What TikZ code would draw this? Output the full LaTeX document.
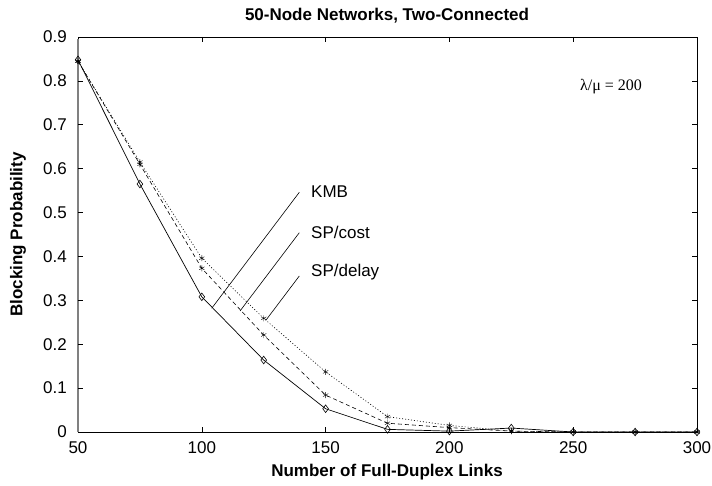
\documentclass[tikz,border=0pt]{standalone}
\usepackage{fontspec}
\setmainfont{Liberation Sans}
\newfontfamily\timesfont{Liberation Serif}
\usetikzlibrary{plotmarks}
\begin{document}
\begin{tikzpicture}[x=1pt,y=1pt,
  ticklbl/.style={font=\fontsize{17}{17}\selectfont, inner sep=0pt},
  axlbl/.style={font=\bfseries\fontsize{17}{17}\selectfont, inner sep=0pt},
  curvelbl/.style={font=\fontsize{17}{17}\selectfont, inner sep=0pt, anchor=west},
  kmbline/.style={line width=0.7pt, mark=diamond, mark size=3.8pt, mark options={solid, line width=0.6pt, fill=none}},
  costline/.style={line width=0.6pt, dash pattern=on 4pt off 3pt, mark=asterisk, mark size=3pt, mark options={solid, line width=0.4pt}},
  delayline/.style={line width=0.6pt, dash pattern=on 1pt off 2pt, mark=asterisk, mark size=3pt, mark options={solid, line width=0.4pt}},
  pointer/.style={line width=0.6pt},
  tick/.style={line width=0.6pt}]
\useasboundingbox[fill=white] (0,0) rectangle (712,485);

% axes frame
\draw[line width=0.6pt] (78,53) rectangle (697,448);
\draw[gray, line width=1.6pt] (78,53) -- (78,446);

% data area
\begin{scope}[shift={(-45.8,53)}, x=2.476pt, y=438.9pt]
  % ticks
  \foreach \xv in {100,150,200,250} {
    \draw[tick] (\xv,0) -- ++(0,5pt);
    \draw[tick] (\xv,0.9) -- ++(0,-5pt);
  }
  \foreach \xv in {50,100,150,200,250,300}
    \node[ticklbl, anchor=north] (xl\xv) at ([yshift=-9pt]\xv,0) {\xv};
  \foreach \yv in {0.1,0.2,0.3,0.4,0.5,0.6,0.7,0.8} {
    \draw[tick] (50,\yv) -- ++(5pt,0);
    \draw[tick] (300,\yv) -- ++(-5pt,0);
  }
  \foreach \yv in {0,0.1,0.2,0.3,0.4,0.5,0.6,0.7,0.8,0.9}
    \node[ticklbl, anchor=east] at ([xshift=-11pt]50,\yv) {\yv};

  % curves
  \draw[delayline] plot coordinates {(50,0.845) (75,0.615) (100,0.396) (125,0.259) (150,0.137) (175,0.035) (200,0.015) (225,0.002) (250,0.0) (275,0.0) (300,0.0)};
  \draw[costline] plot coordinates {(50,0.845) (75,0.610) (100,0.373) (125,0.221) (150,0.084) (175,0.020) (200,0.010) (225,0.002) (250,0.0) (275,0.0) (300,0.0)};
  \draw[kmbline] plot coordinates {(50,0.848) (75,0.565) (100,0.308) (125,0.164) (150,0.053) (175,0.006) (200,0.002) (225,0.009) (250,0.0) (275,0.0) (300,0.0)};
\end{scope}

% curve labels and pointers
\node[curvelbl] (kmb) at (311,293) {KMB};
\node[curvelbl] (spcost) at (311,253) {SP/cost};
\node[curvelbl] (spdelay) at (311,213) {SP/delay};
\coordinate (kmbtop) at (299.3,292.7);
\coordinate (kmbend) at (211.7,176.7);
\coordinate (costtop) at (299.3,252.3);
\coordinate (costend) at (240,174);
\coordinate (delaytop) at (299.3,209);
\coordinate (delayend) at (266,164.9);
\draw[pointer] (kmbtop) -- (kmbend);
\draw[pointer] (costtop) -- (costend);
\draw[pointer] (delaytop) -- (delayend);

% parameter text
\node[font=\timesfont\fontsize{16}{16}\selectfont, inner sep=0pt] (param) at (611,398) {λ/μ = 200};

% titles
\node[axlbl] (title) at (387,469) {50-Node Networks, Two-Connected};
\node[axlbl] (xlabel) at (387,13) {Number of Full-Duplex Links};
\node[axlbl, rotate=90] (ylabel) at (18,250.5) {Blocking Probability};
\end{tikzpicture}
\end{document}
